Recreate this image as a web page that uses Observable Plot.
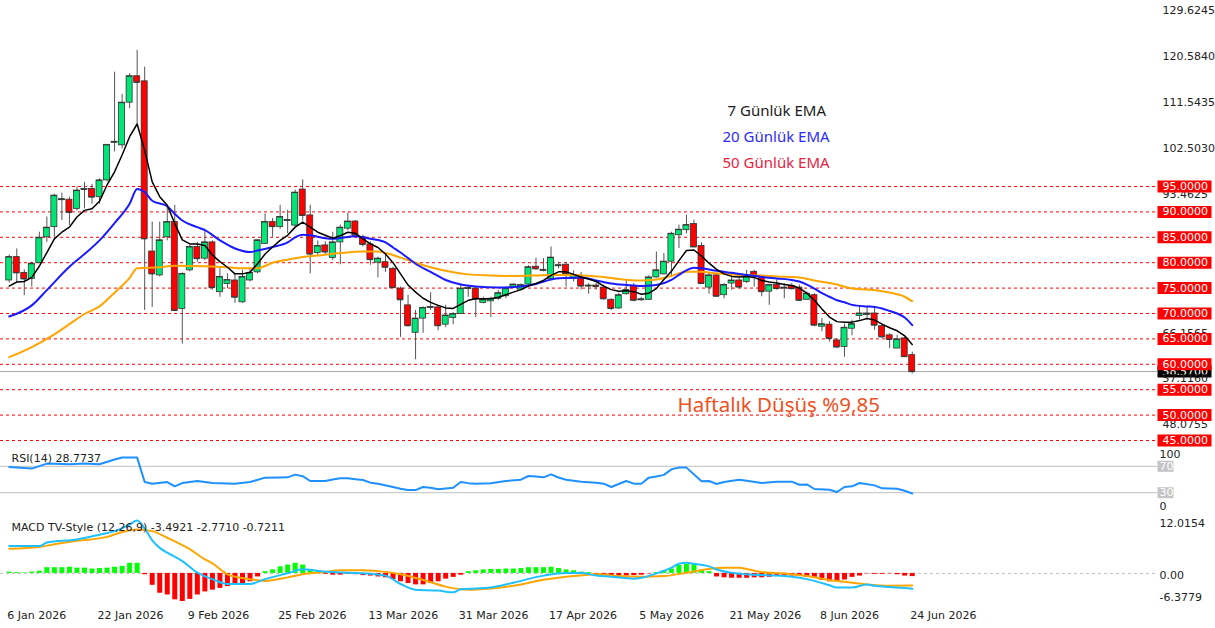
<!DOCTYPE html>
<html><head><meta charset="utf-8">
<script src="https://cdn.jsdelivr.net/npm/d3@7"></script>
<script src="https://cdn.jsdelivr.net/npm/@observablehq/plot@0.6"></script>
<style>
html,body{margin:0;padding:0;background:#fff;overflow:hidden;}
#chart{position:relative;width:1215px;height:628px;overflow:hidden;background:#fff;}
#chart > div{position:absolute;left:0;}
</style></head><body>
<div id="chart"><div id="price" style="top:0px"></div><div id="rsi" style="top:446px"></div><div id="macd" style="top:513px"></div></div>
<script>
// ---------------- DATA ----------------
const opens = [76.5,81.1,78.0,76.8,79.9,85.0,87.0,92.3,92.4,90.6,94.3,94.5,92.9,96.2,103.6,103.1,111.5,116.7,115.7,82.2,
77.5,85.0,88.0,70.9,78.5,83.1,80.8,84.0,74.2,75.8,76.5,72.2,76.5,78.1,83.7,88.0,87.0,88.2,87.3,94.4,
89.3,81.9,83.4,80.95,84.0,86.7,88.1,85.0,83.6,80.0,80.1,78.8,74.9,71.6,66.2,69.0,71.1,71.2,67.8,69.1,
69.9,74.8,74.9,72.1,72.4,72.9,73.4,75.2,74.7,75.7,79.2,78.4,76.8,79.3,79.6,76.8,76.9,75.3,75.5,75.1,
72.7,71.0,73.8,75.4,72.6,72.7,77.1,77.7,80.2,85.4,86.4,87.6,83.3,75.1,77.5,73.6,75.9,76.5,76.2,78.2,
77.2,74.3,75.6,74.9,75.4,75.1,72.7,73.6,67.4,67.8,64.7,63.4,67.0,69.5,69.7,70.0,67.5,65.7,63.1,65.1,61.8];
const highs = [81.5,82.7,78.6,80.1,86.0,89.0,93.5,93.7,92.9,94.9,95.8,95.4,96.5,103.2,117.5,113.1,117.2,121.8,118.5,88.0,
88.0,91.3,91.3,78.0,83.4,84.0,86.6,84.3,79.1,77.8,77.8,78.5,79.1,84.5,89.6,88.7,91.3,90.3,94.3,96.3,
91.3,84.3,84.1,86.0,87.4,89.8,88.3,85.4,84.1,81.1,81.7,79.1,75.2,73.6,70.6,71.3,74.1,71.6,71.6,70.2,
75.8,75.5,75.2,73.2,73.2,74.5,75.2,75.8,75.8,79.4,80.9,80.8,83.1,80.1,80.1,78.4,78.1,75.9,75.9,75.6,
72.9,74.0,76.6,75.9,73.2,77.4,82.1,81.8,86.0,87.4,89.3,88.4,83.9,77.9,77.9,75.9,77.5,77.2,78.5,78.5,
77.5,75.8,76.6,75.9,75.9,75.6,74.2,73.9,69.0,68.4,65.1,67.9,68.7,71.4,71.4,71.4,67.9,66.0,65.7,65.4,62.4];
const lows = [76.0,76.2,73.5,75.2,79.8,84.0,85.0,88.3,87.3,90.2,90.6,91.5,91.5,95.9,101.8,102.4,110.3,107.3,70.6,71.2,
77.2,84.3,70.4,64.0,78.2,80.1,80.4,74.6,73.2,74.9,72.0,72.0,76.2,77.8,83.6,85.0,86.6,85.7,87.0,88.2,
77.8,81.4,81.4,80.4,79.6,86.3,85.0,83.1,79.5,77.0,78.1,74.9,65.3,67.3,60.9,66.1,70.6,66.6,67.2,67.8,
69.9,73.2,69.2,71.9,69.2,72.6,72.9,75.0,74.4,75.5,78.5,78.2,76.5,78.8,75.2,76.2,74.6,73.8,74.6,72.6,
70.6,70.8,73.6,72.3,72.4,72.6,77.0,77.6,77.1,82.8,85.7,83.0,75.7,73.8,73.2,72.9,74.6,74.9,75.9,75.2,
73.3,71.6,74.6,72.9,74.6,72.4,72.6,67.4,66.4,64.4,63.1,61.4,65.6,68.7,68.7,66.7,65.1,63.1,63.1,61.4,58.1];
const closes = [81.1,78.0,76.8,79.8,84.9,86.9,93.2,92.5,89.9,94.2,94.5,92.9,96.2,103.2,103.8,111.5,116.7,115.5,84.7,77.8,
84.4,88.0,70.6,77.8,83.1,80.8,84.0,75.1,77.2,76.6,73.2,77.2,78.0,84.4,88.0,87.1,89.0,88.4,93.8,89.3,
81.7,83.3,82.1,84.0,86.9,88.1,85.4,83.6,80.6,80.8,79.1,75.1,72.7,67.6,69.0,71.1,71.3,67.6,69.6,69.9,
74.9,75.0,72.9,72.7,72.9,74.0,74.9,75.7,75.6,79.1,78.8,78.6,81.0,79.5,77.8,77.6,75.4,75.5,75.3,72.9,
71.0,73.6,74.6,72.6,72.8,77.1,78.5,80.2,85.7,86.5,87.4,83.1,75.9,77.5,73.4,75.6,76.5,75.2,77.5,77.5,
74.3,75.6,74.9,75.1,74.9,72.6,73.9,67.7,67.9,65.1,63.4,67.2,67.9,70.0,70.0,67.7,65.4,64.9,64.9,61.5,58.57];

// 7-day EMA, one value per bar
const ema7 = [75.4,76.2,76.3,77.1,79.3,82.0,84.7,86.0,87.0,89.0,
90.3,90.6,92.1,95.3,97.9,101.2,104.8,107.3,102.1,95.9,
93.0,91.3,87.7,84.5,83.7,83.7,83.4,81.5,80.2,79.1,
77.8,77.8,78.1,79.8,81.7,83.1,84.4,85.4,87.0,88.0,
87.0,86.0,85.4,84.8,85.3,86.0,85.8,84.7,83.7,83.0,
81.7,80.0,77.8,75.6,74.2,73.0,72.2,71.6,71.1,71.0,
71.8,72.6,72.9,72.9,72.9,73.2,73.7,74.2,74.7,75.4,
75.9,76.5,77.5,78.2,78.2,77.7,77.2,76.8,76.3,75.4,
74.7,74.4,74.5,74.3,73.8,74.0,74.9,76.7,78.3,80.4,
82.4,82.5,81.3,79.9,78.7,77.8,77.3,77.2,77.3,77.1,
76.5,76.2,76.0,75.7,75.5,75.0,74.0,72.6,70.9,69.3,
68.4,68.3,68.3,68.6,69.0,68.7,67.9,67.2,66.6,65.6,63.9];
// 20-day EMA [bar, value]
const ema20 = [[0,69.4],[3,71.6],[5,74.6],[8,79.2],[10,81.7],[12,84.4],[14,87.8],[16,91.6],[17,94.5],[18,93.9],[19,92.2],[21,91.1],[22,89.6],[23,88.3],[25,87.0],[26,86.4],[28,84.4],[30,82.8],[32,82.1],[33,82.4],[35,83.1],[37,84.0],[38,85.0],[39,85.5],[40,85.4],[42,84.8],[43,84.7],[46,85.2],[48,84.7],[50,84.0],[51,83.0],[52,82.0],[53,80.9],[54,79.8],[56,78.2],[58,76.6],[60,75.7],[62,75.3],[65,75.1],[68,75.3],[70,75.8],[72,76.7],[74,77.0],[76,77.1],[78,76.5],[80,75.9],[82,75.6],[84,75.4],[86,75.6],[88,76.6],[89,77.6],[90,78.5],[91,79.0],[92,78.9],[94,78.4],[96,78.0],[98,77.6],[100,77.2],[102,76.9],[104,76.6],[105,76.3],[106,75.7],[107,74.9],[108,74.0],[109,73.3],[110,72.6],[111,72.2],[112,71.7],[114,71.4],[115,71.3],[116,71.0],[117,70.5],[118,70.0],[119,69.2],[120,67.7]];
// 50-day EMA [bar, value]
const ema50 = [[0,61.4],[3,63.4],[6,65.9],[8,67.9],[10,69.9],[12,71.4],[14,74.1],[16,77.0],[17,78.9],[20,79.1],[22,79.4],[26,79.3],[29,79.1],[31,78.9],[33,78.9],[35,80.0],[37,80.6],[39,81.1],[41,81.4],[44,81.9],[47,82.2],[49,82.2],[50,81.9],[52,81.0],[54,80.0],[56,79.1],[59,78.1],[61,77.7],[64,77.5],[67,77.4],[70,77.5],[72,77.6],[74,77.6],[76,77.5],[79,77.2],[81,76.8],[84,76.5],[86,76.7],[88,77.4],[90,78.2],[92,78.2],[94,77.9],[97,77.6],[100,77.5],[102,77.3],[105,77.1],[107,76.5],[110,75.7],[112,74.9],[114,74.7],[116,74.4],[118,73.8],[119,73.3],[120,72.4]];

// RSI(14) [bar, value]
const rsi = [[0,69.0],[3,66.5],[5,74.1],[8,73.0],[10,74.1],[12,73.0],[14,80.2],[15,83.2],[17,83.2],[18,46.1],[19,43.7],[21,46.1],[22,39.6],[23,44.6],[25,47.6],[27,44.6],[30,43.7],[32,46.1],[34,52.8],[36,53.0],[37,53.3],[38,57.4],[39,55.0],[40,47.7],[42,47.7],[43,50.0],[44,51.8],[45,51.8],[46,50.5],[47,49.2],[48,45.2],[49,43.7],[51,38.6],[52,36.0],[53,34.0],[54,34.0],[55,38.6],[56,37.5],[57,35.1],[59,37.6],[60,46.2],[61,44.5],[62,43.7],[64,44.2],[66,47.7],[68,49.7],[69,55.3],[70,54.5],[71,53.3],[72,57.8],[73,53.0],[74,49.7],[76,46.7],[78,45.2],[79,43.7],[80,38.6],[82,47.7],[83,43.7],[84,43.7],[85,52.8],[86,54.5],[87,57.0],[88,65.4],[89,68.0],[90,68.0],[92,47.2],[93,47.7],[94,43.2],[95,46.2],[97,49.7],[98,48.0],[100,44.7],[102,46.7],[104,46.7],[105,42.1],[106,42.5],[107,35.6],[109,34.5],[110,31.0],[111,38.6],[112,39.6],[113,44.7],[115,41.1],[116,36.6],[118,36.1],[119,33.0],[120,28.77]];

// MACD TV-Style [bar, value]
const macdLine = [[0,6.2],[4,6.2],[5,7.0],[9,7.7],[12,8.8],[14,9.6],[16,11.1],[17,12.0],[18,10.2],[19,7.5],[20,5.8],[21,4.7],[23,2.8],[25,0.2],[27,-1.3],[29,-2.4],[32,-2.4],[34,-1.3],[37,0.05],[39,0.95],[41,0.6],[43,0.3],[47,0.05],[50,-0.5],[52,-2.4],[54,-3.7],[57,-3.9],[59,-4.3],[60,-3.6],[64,-3.2],[67,-2.1],[71,-0.5],[74,0.1],[76,0.1],[78,-0.5],[80,-0.75],[83,-1.2],[84,-1.0],[86,0.0],[88,1.3],[89,2.2],[90,2.4],[91,2.2],[93,1.6],[94,0.9],[96,0.15],[98,-0.2],[101,-0.45],[103,-0.6],[105,-1.0],[107,-1.7],[109,-2.7],[110,-3.2],[112,-3.2],[114,-2.5],[115,-2.8],[117,-3.1],[119,-3.3],[120,-3.4921]];
const signalLine = [[0,5.6],[4,6.0],[6,6.6],[9,7.4],[13,8.3],[15,9.4],[17,10.0],[19,9.6],[21,8.1],[24,5.5],[26,3.2],[27,2.3],[29,-0.2],[32,-1.3],[34,-1.7],[37,-0.9],[39,-0.2],[42,0.3],[44,0.7],[47,0.7],[50,0.35],[52,-0.2],[55,-1.5],[58,-3.0],[60,-3.6],[61,-3.7],[64,-3.4],[67,-2.8],[71,-1.45],[74,-0.75],[77,-0.3],[78,-0.2],[81,-0.6],[84,-0.75],[87,-0.6],[90,0.15],[93,1.0],[95,1.3],[97,1.3],[98,1.0],[100,0.3],[103,0.0],[106,-0.6],[109,-1.5],[112,-2.1],[114,-2.5],[117,-2.8],[120,-2.771]];
const histogram = [0.3,0.2,0.1,0.3,0.5,1.3,1.3,1.3,1.4,1.2,1.2,1.0,1.1,1.2,1.4,1.6,2.3,2.3,
-0.3,-2.7,-4.5,-4.9,-6.0,-6.3779,-5.9,-4.9,-4.2,-3.8,-3.4,-3.0,-2.6,-2.3,-1.9,-0.8,
0.4,0.8,1.5,1.9,2.3,1.9,0.9,0.4,
-0.2,-0.4,-0.4,-0.2,-0.3,-0.5,-0.6,-0.8,-1.0,-1.4,-1.9,-2.3,-2.6,-2.6,-2.3,-1.9,-1.3,-0.9,-0.4,
0.4,0.6,0.8,0.9,0.9,1.0,1.0,1.1,1.3,1.3,1.3,1.4,1.1,0.8,0.6,0.3,0.2,
-0.3,-0.5,-0.6,-0.5,-0.6,-0.5,-0.4,-0.1,
0.2,0.5,1.0,1.8,2.1,2.0,0.8,0.4,
-0.8,-1.0,-1.1,-1.1,-1.1,-1.0,-1.0,-0.9,-0.7,-0.6,-0.6,-0.7,-0.9,-1.1,
-1.6,-1.9,-1.9,-1.5,-0.9,-0.6,
-0.1,-0.2,-0.2,-0.1,-0.3,
-0.6,-0.7211];

// axis / level values
const levels = [95,90,85,80,75,70,65,60,55,50,45];
const priceTicks = [129.6245,120.5840,111.5435,102.5030,93.4625,66.1565,57.1160,48.0755];
const lastPrice = 58.57;
const rsiLevels = [70,30];
const macdTicks = [12.0154, 0, -6.3779];
const macdTickLabels = ["12.0154","0.00","-6.3779"];
const dateTicks = [0,12,24,36,48,60,72,84,96,108,120];
const dateLabels = ["6 Jan 2026","22 Jan 2026","9 Feb 2026","25 Feb 2026","13 Mar 2026","31 Mar 2026","17 Apr 2026","5 May 2026","21 May 2026","8 Jun 2026","24 Jun 2026"];
const rsiTitle = "RSI(14) 28.7737";
const macdTitle = "MACD TV-Style (12,26,9) -3.4921 -2.7710 -0.7211";
const legendTexts = ["7 Günlük EMA","20 Günlük EMA","50 Günlük EMA"];
const noteText = "Haftalık Düşüş %9,85";

// ---------------- CHART ----------------
const FONT = "DejaVu Sans, Tahoma, sans-serif";
const W = 1215, MR = 60;
const X_DOMAIN = [-1.16, 152.33];
const boxSym = (w, h) => ({draw(ctx) { ctx.rect(-w/2, -h/2, w, h); }});
const baseStyle = {fontFamily: FONT, fontSize: "11px", background: "transparent", overflow: "visible", color: "#222"};

const bars = opens.map((o, i) => ({i, o, h: highs[i], l: lows[i], c: closes[i], up: closes[i] >= o}));

const price = Plot.plot({
  width: W, height: 446, marginLeft: 0, marginRight: MR, marginTop: 0, marginBottom: 0,
  x: {domain: X_DOMAIN, axis: null},
  y: {domain: [43.82, 131.61], axis: null},
  style: baseStyle,
  marks: [
    Plot.ruleY([lastPrice], {stroke: "#a8a8a8", strokeWidth: 1, insetRight: -2}),
    Plot.dot([lastPrice], {y: d => d, frameAnchor: "right", dx: 29, symbol: boxSym(54, 12), fill: "#000", stroke: null}),
    Plot.text([lastPrice], {y: d => d, frameAnchor: "right", dx: 7, textAnchor: "start", text: d => d.toFixed(4), fill: "#fff", fontSize: 11}),
    Plot.axisY(priceTicks, {anchor: "right", tickSize: 0, tickPadding: 7, tickFormat: d => d.toFixed(4), fill: "#222", fontSize: 11}),
    Plot.ruleY(levels, {stroke: "#ff0000", strokeDasharray: "3,3", strokeWidth: 1}),
    Plot.dot(levels, {y: d => d, frameAnchor: "right", dx: 29, symbol: boxSym(54, 12), fill: "#ff0000", stroke: null}),
    Plot.text(levels, {y: d => d, frameAnchor: "right", dx: 7, textAnchor: "start", text: d => d.toFixed(4), fill: "#fff", fontSize: 11}),
    Plot.ruleX(bars, {x: "i", y1: "l", y2: "h", stroke: "#555", strokeWidth: 1}),
    Plot.rect(bars, {x1: d => d.i - 0.4, x2: d => d.i + 0.4, y1: "o", y2: "c", fill: d => d.up ? "#00e676" : "#ff0000", stroke: "#333", strokeWidth: 0.8}),
    Plot.ruleY(bars, {y: "c", x1: d => d.i - 0.4, x2: d => d.i + 0.4, stroke: "#333", strokeWidth: 1}),
    Plot.line(ema50, {x: d => d[0], y: d => d[1], stroke: "#ffa500", strokeWidth: 2, curve: "monotone-x"}),
    Plot.line(ema20, {x: d => d[0], y: d => d[1], stroke: "#1a1aff", strokeWidth: 2, curve: "monotone-x"}),
    Plot.line(ema7, {x: (d, i) => i, y: d => d, stroke: "#000", strokeWidth: 1.5}),
    Plot.text([legendTexts[0]], {frameAnchor: "top-left", dx: 727, dy: 105, textAnchor: "start", fill: "#1a1a1a", fontFamily: "Noto Sans", fontSize: 15}),
    Plot.text([legendTexts[1]], {frameAnchor: "top-left", dx: 722, dy: 131, textAnchor: "start", fill: "#2b2bff", fontFamily: "Noto Sans", fontSize: 15}),
    Plot.text([legendTexts[2]], {frameAnchor: "top-left", dx: 722, dy: 157, textAnchor: "start", fill: "#e8233f", fontFamily: "Noto Sans", fontSize: 15}),
    Plot.text([noteText], {frameAnchor: "top-left", dx: 677, dy: 397, textAnchor: "start", fill: "#f0501e", fontFamily: "Noto Sans", fontSize: 20.5})
  ]
});
document.getElementById("price").append(price);

const rsiPlot = Plot.plot({
  width: W, height: 66, marginLeft: 0, marginRight: MR, marginTop: 0, marginBottom: 0,
  x: {domain: X_DOMAIN, axis: null},
  y: {domain: [0, 100], axis: null},
  style: baseStyle,
  marks: [
    Plot.ruleY(rsiLevels, {stroke: "#c0c0c0", strokeWidth: 1, insetRight: -2}),
    Plot.dot(rsiLevels, {y: d => d, frameAnchor: "right", dx: 10, symbol: boxSym(16, 11), fill: "#c4c4c4", stroke: null}),
    Plot.text(rsiLevels, {y: d => d, frameAnchor: "right", dx: 4, textAnchor: "start", text: d => String(d), fill: "#fff", fontSize: 11}),
    Plot.text([100], {y: d => d, frameAnchor: "right", dx: 4, dy: 8, textAnchor: "start", text: d => String(d), fill: "#222", fontSize: 11}),
    Plot.text([0], {y: d => d, frameAnchor: "right", dx: 4, dy: -6, textAnchor: "start", text: d => String(d), fill: "#222", fontSize: 11}),
    Plot.line(rsi, {x: d => d[0], y: d => d[1], stroke: "#1e90ff", strokeWidth: 2}),
    Plot.text([rsiTitle], {frameAnchor: "top-left", dx: 11, dy: 8, textAnchor: "start", fill: "#222", fontSize: 11})
  ]
});
document.getElementById("rsi").append(rsiPlot);

const macdPlot = Plot.plot({
  width: W, height: 115, marginLeft: 0, marginRight: MR, marginTop: 7, marginBottom: 27,
  x: {domain: X_DOMAIN, axis: null},
  y: {domain: [-6.3779, 12.0154], axis: null},
  style: baseStyle,
  marks: [
    Plot.ruleY([0], {stroke: "#c0c0c0", strokeDasharray: "3,3", strokeWidth: 1, insetRight: -2}),
    Plot.ruleX(histogram, {x: (d, i) => i, y1: 0, y2: d => d, stroke: d => d >= 0 ? "#00ff00" : "#ff0000", strokeWidth: 5}),
    Plot.line(signalLine, {x: d => d[0], y: d => d[1], stroke: "#ffa500", strokeWidth: 2, curve: "monotone-x"}),
    Plot.line(macdLine, {x: d => d[0], y: d => d[1], stroke: "#1ec0ff", strokeWidth: 2, curve: "monotone-x"}),
    Plot.text([macdTicks[0]], {y: d => d, frameAnchor: "right", dx: 4, dy: 3, textAnchor: "start", text: () => macdTickLabels[0], fill: "#222", fontSize: 11}),
    Plot.text([macdTicks[1]], {y: d => d, frameAnchor: "right", dx: 4, dy: 2, textAnchor: "start", text: () => macdTickLabels[1], fill: "#222", fontSize: 11}),
    Plot.text([macdTicks[2]], {y: d => d, frameAnchor: "right", dx: 4, dy: -4, textAnchor: "start", text: () => macdTickLabels[2], fill: "#222", fontSize: 11}),
    Plot.text([macdTitle], {frameAnchor: "top-left", dx: 11, dy: 3, textAnchor: "start", fill: "#222", fontSize: 11}),
    Plot.axisX(dateTicks, {anchor: "bottom", tickSize: 0, tickPadding: 10, tickFormat: d => dateLabels[dateTicks.indexOf(d)], textAnchor: "start", dx: -2, fill: "#222", fontSize: 11})
  ]
});
document.getElementById("macd").append(macdPlot);
</script>
</body></html>
